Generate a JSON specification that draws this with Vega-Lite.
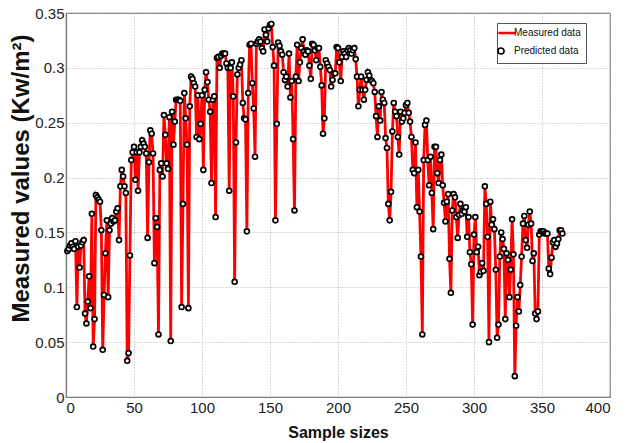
{
  "$schema": "https://vega.github.io/schema/vega-lite/v6.json",
  "width": 544,
  "height": 384,
  "autosize": {"type": "none"},
  "padding": {"left": 66, "top": 13, "right": 25, "bottom": 46},
  "background": "white",
  "config": {
    "view": {"stroke": "#7a7a7a", "strokeWidth": 1.2},
    "axis": {
      "domainColor": "#7a7a7a",
      "domainWidth": 1.2,
      "grid": true,
      "gridColor": "#b0b0b0",
      "gridDash": [1, 2],
      "gridWidth": 1,
      "ticks": false,
      "labelFont": "Liberation Sans, sans-serif",
      "labelFontSize": 15,
      "labelColor": "#222222",
      "titleFont": "Liberation Sans, sans-serif",
      "titleFontWeight": "bold",
      "titleColor": "#111111"
    }
  },
  "data": {"values": [
    {"sample":1,"measured":0.133,"predicted":0.133},{"sample":2,"measured":0.135,"predicted":0.135},{"sample":3,"measured":0.138,"predicted":0.138},{"sample":4,"measured":0.14,"predicted":0.14},{"sample":5,"measured":0.137,"predicted":0.137},{"sample":6,"measured":0.135,"predicted":0.135},{"sample":7,"measured":0.142,"predicted":0.142},{"sample":8,"measured":0.082,"predicted":0.082},{"sample":9,"measured":0.137,"predicted":0.137},{"sample":10,"measured":0.118,"predicted":0.118},
    {"sample":11,"measured":0.138,"predicted":0.138},{"sample":12,"measured":0.141,"predicted":0.141},{"sample":13,"measured":0.143,"predicted":0.143},{"sample":14,"measured":0.076,"predicted":0.076},{"sample":15,"measured":0.067,"predicted":0.067},{"sample":16,"measured":0.087,"predicted":0.087},{"sample":17,"measured":0.11,"predicted":0.11},{"sample":18,"measured":0.081,"predicted":0.081},{"sample":19,"measured":0.167,"predicted":0.167},{"sample":20,"measured":0.046,"predicted":0.046},
    {"sample":21,"measured":0.071,"predicted":0.071},{"sample":22,"measured":0.184,"predicted":0.184},{"sample":23,"measured":0.182,"predicted":0.182},{"sample":24,"measured":0.18,"predicted":0.18},{"sample":25,"measured":0.178,"predicted":0.178},{"sample":26,"measured":0.152,"predicted":0.152},{"sample":27,"measured":0.043,"predicted":0.043},{"sample":28,"measured":0.093,"predicted":0.093},{"sample":29,"measured":0.131,"predicted":0.131},{"sample":30,"measured":0.161,"predicted":0.161},
    {"sample":31,"measured":0.091,"predicted":0.091},{"sample":32,"measured":0.152,"predicted":0.152},{"sample":33,"measured":0.158,"predicted":0.158},{"sample":34,"measured":0.163,"predicted":0.163},{"sample":35,"measured":0.16,"predicted":0.16},{"sample":36,"measured":0.161,"predicted":0.161},{"sample":37,"measured":0.169,"predicted":0.169},{"sample":38,"measured":0.172,"predicted":0.172},{"sample":39,"measured":0.143,"predicted":0.143},{"sample":40,"measured":0.192,"predicted":0.192},
    {"sample":41,"measured":0.207,"predicted":0.207},{"sample":42,"measured":0.201,"predicted":0.201},{"sample":43,"measured":0.192,"predicted":0.192},{"sample":44,"measured":0.186,"predicted":0.186},{"sample":45,"measured":0.033,"predicted":0.033},{"sample":46,"measured":0.04,"predicted":0.04},{"sample":47,"measured":0.129,"predicted":0.129},{"sample":48,"measured":0.216,"predicted":0.216},{"sample":49,"measured":0.223,"predicted":0.223},{"sample":50,"measured":0.228,"predicted":0.228},
    {"sample":51,"measured":0.198,"predicted":0.198},{"sample":52,"measured":0.223,"predicted":0.223},{"sample":53,"measured":0.188,"predicted":0.188},{"sample":54,"measured":0.223,"predicted":0.223},{"sample":55,"measured":0.228,"predicted":0.228},{"sample":56,"measured":0.234,"predicted":0.234},{"sample":57,"measured":0.231,"predicted":0.231},{"sample":58,"measured":0.228,"predicted":0.228},{"sample":59,"measured":0.222,"predicted":0.222},{"sample":60,"measured":0.145,"predicted":0.145},
    {"sample":61,"measured":0.214,"predicted":0.214},{"sample":62,"measured":0.243,"predicted":0.243},{"sample":63,"measured":0.24,"predicted":0.24},{"sample":64,"measured":0.222,"predicted":0.222},{"sample":65,"measured":0.122,"predicted":0.122},{"sample":66,"measured":0.163,"predicted":0.163},{"sample":67,"measured":0.155,"predicted":0.155},{"sample":68,"measured":0.057,"predicted":0.057},{"sample":69,"measured":0.207,"predicted":0.207},{"sample":70,"measured":0.213,"predicted":0.213},
    {"sample":71,"measured":0.201,"predicted":0.201},{"sample":72,"measured":0.257,"predicted":0.257},{"sample":73,"measured":0.239,"predicted":0.239},{"sample":74,"measured":0.213,"predicted":0.213},{"sample":75,"measured":0.208,"predicted":0.208},{"sample":76,"measured":0.255,"predicted":0.255},{"sample":77,"measured":0.051,"predicted":0.051},{"sample":78,"measured":0.26,"predicted":0.26},{"sample":79,"measured":0.23,"predicted":0.23},{"sample":80,"measured":0.251,"predicted":0.251},
    {"sample":81,"measured":0.271,"predicted":0.271},{"sample":82,"measured":0.271,"predicted":0.271},{"sample":83,"measured":0.271,"predicted":0.271},{"sample":84,"measured":0.27,"predicted":0.27},{"sample":85,"measured":0.082,"predicted":0.082},{"sample":86,"measured":0.176,"predicted":0.176},{"sample":87,"measured":0.277,"predicted":0.277},{"sample":88,"measured":0.254,"predicted":0.254},{"sample":89,"measured":0.23,"predicted":0.23},{"sample":90,"measured":0.081,"predicted":0.081},
    {"sample":91,"measured":0.265,"predicted":0.265},{"sample":92,"measured":0.292,"predicted":0.292},{"sample":93,"measured":0.29,"predicted":0.29},{"sample":94,"measured":0.286,"predicted":0.286},{"sample":95,"measured":0.283,"predicted":0.283},{"sample":96,"measured":0.237,"predicted":0.237},{"sample":97,"measured":0.275,"predicted":0.275},{"sample":98,"measured":0.235,"predicted":0.235},{"sample":99,"measured":0.249,"predicted":0.249},{"sample":100,"measured":0.275,"predicted":0.275},
    {"sample":101,"measured":0.207,"predicted":0.207},{"sample":102,"measured":0.28,"predicted":0.28},{"sample":103,"measured":0.296,"predicted":0.296},{"sample":104,"measured":0.287,"predicted":0.287},{"sample":105,"measured":0.271,"predicted":0.271},{"sample":106,"measured":0.26,"predicted":0.26},{"sample":107,"measured":0.195,"predicted":0.195},{"sample":108,"measured":0.271,"predicted":0.271},{"sample":109,"measured":0.274,"predicted":0.274},{"sample":110,"measured":0.164,"predicted":0.164},
    {"sample":111,"measured":0.309,"predicted":0.309},{"sample":112,"measured":0.31,"predicted":0.31},{"sample":113,"measured":0.3,"predicted":0.3},{"sample":114,"measured":0.311,"predicted":0.311},{"sample":115,"measured":0.313,"predicted":0.313},{"sample":116,"measured":0.313,"predicted":0.313},{"sample":117,"measured":0.313,"predicted":0.313},{"sample":118,"measured":0.304,"predicted":0.304},{"sample":119,"measured":0.3,"predicted":0.3},{"sample":120,"measured":0.188,"predicted":0.188},
    {"sample":121,"measured":0.3,"predicted":0.3},{"sample":122,"measured":0.305,"predicted":0.305},{"sample":123,"measured":0.274,"predicted":0.274},{"sample":124,"measured":0.105,"predicted":0.105},{"sample":125,"measured":0.232,"predicted":0.232},{"sample":126,"measured":0.294,"predicted":0.294},{"sample":127,"measured":0.3,"predicted":0.3},{"sample":128,"measured":0.303,"predicted":0.303},{"sample":129,"measured":0.307,"predicted":0.307},{"sample":130,"measured":0.268,"predicted":0.268},
    {"sample":131,"measured":0.254,"predicted":0.254},{"sample":132,"measured":0.253,"predicted":0.253},{"sample":133,"measured":0.151,"predicted":0.151},{"sample":134,"measured":0.277,"predicted":0.277},{"sample":135,"measured":0.321,"predicted":0.321},{"sample":136,"measured":0.322,"predicted":0.322},{"sample":137,"measured":0.286,"predicted":0.286},{"sample":138,"measured":0.263,"predicted":0.263},{"sample":139,"measured":0.219,"predicted":0.219},{"sample":140,"measured":0.322,"predicted":0.322},
    {"sample":141,"measured":0.324,"predicted":0.324},{"sample":142,"measured":0.326,"predicted":0.326},{"sample":143,"measured":0.324,"predicted":0.324},{"sample":144,"measured":0.318,"predicted":0.318},{"sample":145,"measured":0.315,"predicted":0.315},{"sample":146,"measured":0.335,"predicted":0.335},{"sample":147,"measured":0.33,"predicted":0.33},{"sample":148,"measured":0.324,"predicted":0.324},{"sample":149,"measured":0.336,"predicted":0.336},{"sample":150,"measured":0.339,"predicted":0.339},
    {"sample":151,"measured":0.34,"predicted":0.34},{"sample":152,"measured":0.319,"predicted":0.319},{"sample":153,"measured":0.302,"predicted":0.302},{"sample":154,"measured":0.161,"predicted":0.161},{"sample":155,"measured":0.249,"predicted":0.249},{"sample":156,"measured":0.323,"predicted":0.323},{"sample":157,"measured":0.32,"predicted":0.32},{"sample":158,"measured":0.315,"predicted":0.315},{"sample":159,"measured":0.312,"predicted":0.312},{"sample":160,"measured":0.296,"predicted":0.296},
    {"sample":161,"measured":0.289,"predicted":0.289},{"sample":162,"measured":0.292,"predicted":0.292},{"sample":163,"measured":0.283,"predicted":0.283},{"sample":164,"measured":0.313,"predicted":0.313},{"sample":165,"measured":0.273,"predicted":0.273},{"sample":166,"measured":0.288,"predicted":0.288},{"sample":167,"measured":0.235,"predicted":0.235},{"sample":168,"measured":0.17,"predicted":0.17},{"sample":169,"measured":0.292,"predicted":0.292},{"sample":170,"measured":0.321,"predicted":0.321},
    {"sample":171,"measured":0.288,"predicted":0.288},{"sample":172,"measured":0.305,"predicted":0.305},{"sample":173,"measured":0.318,"predicted":0.318},{"sample":174,"measured":0.326,"predicted":0.326},{"sample":175,"measured":0.315,"predicted":0.315},{"sample":176,"measured":0.312,"predicted":0.312},{"sample":177,"measured":0.316,"predicted":0.316},{"sample":178,"measured":0.315,"predicted":0.315},{"sample":179,"measured":0.302,"predicted":0.302},{"sample":180,"measured":0.29,"predicted":0.29},
    {"sample":181,"measured":0.322,"predicted":0.322},{"sample":182,"measured":0.321,"predicted":0.321},{"sample":183,"measured":0.316,"predicted":0.316},{"sample":184,"measured":0.307,"predicted":0.307},{"sample":185,"measured":0.318,"predicted":0.318},{"sample":186,"measured":0.318,"predicted":0.318},{"sample":187,"measured":0.301,"predicted":0.301},{"sample":188,"measured":0.284,"predicted":0.284},{"sample":189,"measured":0.24,"predicted":0.24},{"sample":190,"measured":0.254,"predicted":0.254},
    {"sample":191,"measured":0.307,"predicted":0.307},{"sample":192,"measured":0.304,"predicted":0.304},{"sample":193,"measured":0.301,"predicted":0.301},{"sample":194,"measured":0.298,"predicted":0.298},{"sample":195,"measured":0.283,"predicted":0.283},{"sample":196,"measured":0.289,"predicted":0.289},{"sample":197,"measured":0.295,"predicted":0.295},{"sample":198,"measured":0.295,"predicted":0.295},{"sample":199,"measured":0.319,"predicted":0.319},{"sample":200,"measured":0.318,"predicted":0.318},
    {"sample":201,"measured":0.305,"predicted":0.305},{"sample":202,"measured":0.288,"predicted":0.288},{"sample":203,"measured":0.31,"predicted":0.31},{"sample":204,"measured":0.315,"predicted":0.315},{"sample":205,"measured":0.313,"predicted":0.313},{"sample":206,"measured":0.31,"predicted":0.31},{"sample":207,"measured":0.316,"predicted":0.316},{"sample":208,"measured":0.318,"predicted":0.318},{"sample":209,"measured":0.316,"predicted":0.316},{"sample":210,"measured":0.313,"predicted":0.313},
    {"sample":211,"measured":0.316,"predicted":0.316},{"sample":212,"measured":0.318,"predicted":0.318},{"sample":213,"measured":0.308,"predicted":0.308},{"sample":214,"measured":0.292,"predicted":0.292},{"sample":215,"measured":0.265,"predicted":0.265},{"sample":216,"measured":0.28,"predicted":0.28},{"sample":217,"measured":0.292,"predicted":0.292},{"sample":218,"measured":0.28,"predicted":0.28},{"sample":219,"measured":0.271,"predicted":0.271},{"sample":220,"measured":0.28,"predicted":0.28},
    {"sample":221,"measured":0.289,"predicted":0.289},{"sample":222,"measured":0.296,"predicted":0.296},{"sample":223,"measured":0.293,"predicted":0.293},{"sample":224,"measured":0.289,"predicted":0.289},{"sample":225,"measured":0.288,"predicted":0.288},{"sample":226,"measured":0.286,"predicted":0.286},{"sample":227,"measured":0.278,"predicted":0.278},{"sample":228,"measured":0.256,"predicted":0.256},{"sample":229,"measured":0.237,"predicted":0.237},{"sample":230,"measured":0.265,"predicted":0.265},
    {"sample":231,"measured":0.252,"predicted":0.252},{"sample":232,"measured":0.278,"predicted":0.278},{"sample":233,"measured":0.271,"predicted":0.271},{"sample":234,"measured":0.268,"predicted":0.268},{"sample":235,"measured":0.236,"predicted":0.236},{"sample":236,"measured":0.227,"predicted":0.227},{"sample":237,"measured":0.176,"predicted":0.176},{"sample":238,"measured":0.161,"predicted":0.161},{"sample":239,"measured":0.187,"predicted":0.187},{"sample":240,"measured":0.242,"predicted":0.242},
    {"sample":241,"measured":0.268,"predicted":0.268},{"sample":242,"measured":0.26,"predicted":0.26},{"sample":243,"measured":0.256,"predicted":0.256},{"sample":244,"measured":0.237,"predicted":0.237},{"sample":245,"measured":0.221,"predicted":0.221},{"sample":246,"measured":0.26,"predicted":0.26},{"sample":247,"measured":0.251,"predicted":0.251},{"sample":248,"measured":0.254,"predicted":0.254},{"sample":249,"measured":0.259,"predicted":0.259},{"sample":250,"measured":0.266,"predicted":0.266},
    {"sample":251,"measured":0.268,"predicted":0.268},{"sample":252,"measured":0.259,"predicted":0.259},{"sample":253,"measured":0.251,"predicted":0.251},{"sample":254,"measured":0.237,"predicted":0.237},{"sample":255,"measured":0.207,"predicted":0.207},{"sample":256,"measured":0.204,"predicted":0.204},{"sample":257,"measured":0.232,"predicted":0.232},{"sample":258,"measured":0.173,"predicted":0.173},{"sample":259,"measured":0.207,"predicted":0.207},{"sample":260,"measured":0.169,"predicted":0.169},
    {"sample":261,"measured":0.128,"predicted":0.128},{"sample":262,"measured":0.057,"predicted":0.057},{"sample":263,"measured":0.216,"predicted":0.216},{"sample":264,"measured":0.248,"predicted":0.248},{"sample":265,"measured":0.252,"predicted":0.252},{"sample":266,"measured":0.216,"predicted":0.216},{"sample":267,"measured":0.193,"predicted":0.193},{"sample":268,"measured":0.219,"predicted":0.219},{"sample":269,"measured":0.186,"predicted":0.186},{"sample":270,"measured":0.153,"predicted":0.153},
    {"sample":271,"measured":0.228,"predicted":0.228},{"sample":272,"measured":0.228,"predicted":0.228},{"sample":273,"measured":0.204,"predicted":0.204},{"sample":274,"measured":0.195,"predicted":0.195},{"sample":275,"measured":0.216,"predicted":0.216},{"sample":276,"measured":0.221,"predicted":0.221},{"sample":277,"measured":0.193,"predicted":0.193},{"sample":278,"measured":0.177,"predicted":0.177},{"sample":279,"measured":0.16,"predicted":0.16},{"sample":280,"measured":0.178,"predicted":0.178},
    {"sample":281,"measured":0.185,"predicted":0.185},{"sample":282,"measured":0.126,"predicted":0.126},{"sample":283,"measured":0.095,"predicted":0.095},{"sample":284,"measured":0.17,"predicted":0.17},{"sample":285,"measured":0.185,"predicted":0.185},{"sample":286,"measured":0.182,"predicted":0.182},{"sample":287,"measured":0.164,"predicted":0.164},{"sample":288,"measured":0.145,"predicted":0.145},{"sample":289,"measured":0.166,"predicted":0.166},{"sample":290,"measured":0.176,"predicted":0.176},
    {"sample":291,"measured":0.167,"predicted":0.167},{"sample":292,"measured":0.17,"predicted":0.17},{"sample":293,"measured":0.169,"predicted":0.169},{"sample":294,"measured":0.173,"predicted":0.173},{"sample":295,"measured":0.146,"predicted":0.146},{"sample":296,"measured":0.164,"predicted":0.164},{"sample":297,"measured":0.132,"predicted":0.132},{"sample":298,"measured":0.121,"predicted":0.121},{"sample":299,"measured":0.066,"predicted":0.066},{"sample":300,"measured":0.148,"predicted":0.148},
    {"sample":301,"measured":0.164,"predicted":0.164},{"sample":302,"measured":0.132,"predicted":0.132},{"sample":303,"measured":0.137,"predicted":0.137},{"sample":304,"measured":0.111,"predicted":0.111},{"sample":305,"measured":0.114,"predicted":0.114},{"sample":306,"measured":0.122,"predicted":0.122},{"sample":307,"measured":0.115,"predicted":0.115},{"sample":308,"measured":0.192,"predicted":0.192},{"sample":309,"measured":0.176,"predicted":0.176},{"sample":310,"measured":0.146,"predicted":0.146},
    {"sample":311,"measured":0.05,"predicted":0.05},{"sample":312,"measured":0.178,"predicted":0.178},{"sample":313,"measured":0.157,"predicted":0.157},{"sample":314,"measured":0.162,"predicted":0.162},{"sample":315,"measured":0.153,"predicted":0.153},{"sample":316,"measured":0.116,"predicted":0.116},{"sample":317,"measured":0.054,"predicted":0.054},{"sample":318,"measured":0.066,"predicted":0.066},{"sample":319,"measured":0.128,"predicted":0.128},{"sample":320,"measured":0.15,"predicted":0.15},
    {"sample":321,"measured":0.144,"predicted":0.144},{"sample":322,"measured":0.135,"predicted":0.135},{"sample":323,"measured":0.071,"predicted":0.071},{"sample":324,"measured":0.131,"predicted":0.131},{"sample":325,"measured":0.125,"predicted":0.125},{"sample":326,"measured":0.091,"predicted":0.091},{"sample":327,"measured":0.116,"predicted":0.116},{"sample":328,"measured":0.162,"predicted":0.162},{"sample":329,"measured":0.13,"predicted":0.13},{"sample":330,"measured":0.019,"predicted":0.019},
    {"sample":331,"measured":0.065,"predicted":0.065},{"sample":332,"measured":0.091,"predicted":0.091},{"sample":333,"measured":0.078,"predicted":0.078},{"sample":334,"measured":0.102,"predicted":0.102},{"sample":335,"measured":0.128,"predicted":0.128},{"sample":336,"measured":0.158,"predicted":0.158},{"sample":337,"measured":0.165,"predicted":0.165},{"sample":338,"measured":0.143,"predicted":0.143},{"sample":339,"measured":0.136,"predicted":0.136},{"sample":340,"measured":0.157,"predicted":0.157},
    {"sample":341,"measured":0.169,"predicted":0.169},{"sample":342,"measured":0.158,"predicted":0.158},{"sample":343,"measured":0.124,"predicted":0.124},{"sample":344,"measured":0.131,"predicted":0.131},{"sample":345,"measured":0.076,"predicted":0.076},{"sample":346,"measured":0.071,"predicted":0.071},{"sample":347,"measured":0.078,"predicted":0.078},{"sample":348,"measured":0.148,"predicted":0.148},{"sample":349,"measured":0.151,"predicted":0.151},{"sample":350,"measured":0.151,"predicted":0.151},
    {"sample":351,"measured":0.151,"predicted":0.151},{"sample":352,"measured":0.149,"predicted":0.149},{"sample":353,"measured":0.149,"predicted":0.149},{"sample":354,"measured":0.149,"predicted":0.149},{"sample":355,"measured":0.117,"predicted":0.117},{"sample":356,"measured":0.112,"predicted":0.112},{"sample":357,"measured":0.127,"predicted":0.127},{"sample":358,"measured":0.141,"predicted":0.141},{"sample":359,"measured":0.143,"predicted":0.143},{"sample":360,"measured":0.137,"predicted":0.137},
    {"sample":361,"measured":0.14,"predicted":0.14},{"sample":362,"measured":0.144,"predicted":0.144},{"sample":363,"measured":0.152,"predicted":0.152},{"sample":364,"measured":0.152,"predicted":0.152},{"sample":365,"measured":0.149,"predicted":0.149}
  ]},
  "layer": [
    {
      "mark": {"type": "line", "strokeWidth": 2.8, "interpolate": "linear"},
      "encoding": {
        "x": {
          "field": "sample", "type": "quantitative",
          "scale": {"domain": [0, 400], "nice": false, "zero": false},
          "axis": {
            "values": [0, 50, 100, 150, 200, 250, 300, 350, 400],
            "title": "Sample sizes",
            "titleFontSize": 16,
            "titleBaseline": "alphabetic",
            "titleY": 40,
            "labelPadding": 3
          }
        },
        "y": {
          "field": "measured", "type": "quantitative",
          "scale": {"domain": [0, 0.35], "nice": false},
          "axis": {
            "values": [0, 0.05, 0.1, 0.15, 0.2, 0.25, 0.3, 0.35],
            "format": "~g",
            "title": "Measured values (Kw/m²)",
            "titleFontSize": 24,
            "titleY": 165,
            "titleX": -33,
            "labelPadding": 2
          }
        },
        "color": {
          "datum": "Measured data", "type": "nominal",
          "scale": {"domain": ["Measured data", "Predicted data"], "range": ["#ff0000", "#000000"]},
          "legend": {
            "orient": "none",
            "legendX": 431,
            "legendY": 10,
            "title": null,
            "strokeColor": "#555555",
            "fillColor": "white",
            "padding": 5,
            "rowPadding": 6,
            "labelFont": "Liberation Sans, sans-serif",
            "labelFontSize": 10,
            "labelColor": "#111111",
            "labelOffset": 2,
            "symbolSize": 300,
            "encode": {
              "symbols": {
                "update": {
                  "shape": {"signal": "datum.value === 'Measured data' ? 'stroke' : 'M -1.04,0 A 0.35,0.35 0 1,1 -0.34,0 A 0.35,0.35 0 1,1 -1.04,0 Z'"},
                  "stroke": {"signal": "datum.value === 'Measured data' ? '#ff0000' : '#000000'"},
                  "strokeWidth": {"signal": "datum.value === 'Measured data' ? 2.5 : 1.6"},
                  "fill": {"value": "white"},
                  "fillOpacity": {"value": 1},
                  "opacity": {"value": 1}
                }
              }
            }
          }
        }
      }
    },
    {
      "mark": {"type": "point", "filled": false, "fill": "white", "fillOpacity": 1, "strokeWidth": 1.7, "size": 24, "opacity": 1},
      "encoding": {
        "x": {"field": "sample", "type": "quantitative"},
        "y": {"field": "predicted", "type": "quantitative"},
        "color": {"datum": "Predicted data", "type": "nominal"}
      }
    }
  ]
}
